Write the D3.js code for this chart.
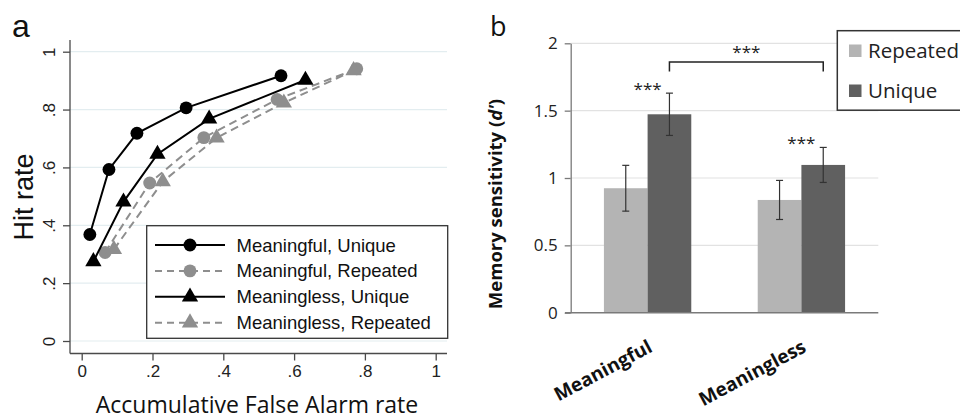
<!DOCTYPE html>
<html>
<head>
<meta charset="utf-8">
<script src="https://cdn.jsdelivr.net/npm/d3@7"></script>
<style>
  html, body { margin: 0; padding: 0; background: #fff; }
  svg { display: block; }
</style>
</head>
<body>
<div id="viz"></div>
<script>
// ---- panel a data (ROC-like curves) ----
const rocSeries = ["Meaningful, Unique", "Meaningful, Repeated", "Meaningless, Unique", "Meaningless, Repeated"];
const faMeaningfulUnique = [0.023, 0.077, 0.156, 0.295, 0.563];
const hitMeaningfulUnique = [0.368, 0.593, 0.718, 0.806, 0.917];
const faMeaningfulRepeated = [0.066, 0.192, 0.345, 0.552, 0.777];
const hitMeaningfulRepeated = [0.306, 0.546, 0.703, 0.835, 0.941];
const faMeaninglessUnique = [0.033, 0.118, 0.214, 0.360, 0.632];
const hitMeaninglessUnique = [0.275, 0.481, 0.646, 0.768, 0.902];
const faMeaninglessRepeated = [0.091, 0.229, 0.381, 0.571, 0.768];
const hitMeaninglessRepeated = [0.317, 0.551, 0.702, 0.823, 0.935];
const rocTicks = [0, 0.2, 0.4, 0.6, 0.8, 1];

// ---- panel b data (d') ----
const categories = ["Meaningful", "Meaningless"];
const conditions = ["Repeated", "Unique"];
const dRepeated = [0.924, 0.837];
const dUnique = [1.473, 1.097];
const errRepeated = [0.17, 0.145];
const errUnique = [0.157, 0.13];
const dTicks = [0, 0.5, 1, 1.5, 2];

document.addEventListener("DOMContentLoaded", () => {
    const width = 960;
    const height = 419;

    const svg = d3.select('#viz').append('svg')
        .attr('width', width)
        .attr('height', height);

    // ================= panel a =================
    const x = d3.scaleLinear().domain([0, 1]).range([81.7, 435.7]);
    const y = d3.scaleLinear().domain([0, 1]).range([341, 51.7]);
    const fmt = d => d === 0 ? "0" : d === 1 ? "1" : d3.format(".1f")(d).replace(/^0/, "");
    const axisColor = "#4a4a4a";

    const a = svg.append('g').attr('font-family', '"Liberation Sans", Arial, sans-serif');

    // gridlines
    a.selectAll('line.grid')
        .data(rocTicks)
        .enter().append('line')
        .attr('x1', 70).attr('x2', 447)
        .attr('y1', d => y(d)).attr('y2', d => y(d))
        .attr('stroke', '#e3edf0').attr('stroke-width', 1.2);

    const yAxis = a.append('g')
        .attr('transform', 'translate(70,0)')
        .call(d3.axisLeft(y).tickValues(rocTicks).tickFormat(fmt).tickSize(7).tickSizeOuter(0));
    yAxis.select('.domain').attr('d', 'M0,40V353.5');
    yAxis.selectAll('.tick text')
        .attr('font-size', 17)
        .attr('fill', '#222')
        .attr('transform', 'rotate(-90)')
        .attr('x', 0).attr('y', -15)
        .attr('dy', 0)
        .attr('text-anchor', 'middle');

    const xAxis = a.append('g')
        .attr('transform', 'translate(0,353.5)')
        .call(d3.axisBottom(x).tickValues(rocTicks).tickFormat(fmt).tickSize(7).tickSizeOuter(0));
    xAxis.select('.domain').attr('d', 'M70,0H447');
    xAxis.selectAll('.tick text').attr('font-size', 17).attr('fill', '#222').attr('y', 11);

    [yAxis, xAxis].forEach(g => {
        g.selectAll('.domain, .tick line').attr('stroke', axisColor).attr('stroke-width', 1.3);
        g.attr('font-family', null);
    });

    a.append('text')
        .attr('transform', 'translate(33,197) rotate(-90)')
        .attr('text-anchor', 'middle')
        .attr('font-size', 27)
        .attr('fill', '#111')
        .text('Hit rate');

    a.append('text')
        .attr('x', 257).attr('y', 413)
        .attr('text-anchor', 'middle')
        .attr('font-family', '"Open Sans", sans-serif')
        .attr('font-size', 23)
        .attr('fill', '#111')
        .text('Accumulative False Alarm rate');

    a.append('text')
        .attr('x', 12).attr('y', 37)
        .attr('font-size', 32)
        .attr('fill', '#111')
        .text('a');

    const series = [
        { name: rocSeries[0], fa: faMeaningfulUnique, hit: hitMeaningfulUnique, color: '#000', dash: null, shape: 'circle' },
        { name: rocSeries[1], fa: faMeaningfulRepeated, hit: hitMeaningfulRepeated, color: '#8e8e8e', dash: '8,5', shape: 'circle' },
        { name: rocSeries[2], fa: faMeaninglessUnique, hit: hitMeaninglessUnique, color: '#000', dash: null, shape: 'triangle' },
        { name: rocSeries[3], fa: faMeaninglessRepeated, hit: hitMeaninglessRepeated, color: '#8e8e8e', dash: '8,5', shape: 'triangle' }
    ];

    const line = d3.line().x(d => x(d[0])).y(d => y(d[1]));
    const circleSym = d3.symbol().type(d3.symbolCircle).size(130);
    const triSym = d3.symbol().type(d3.symbolTriangle).size(115);

    // draw repeated (gray) first, then black on top
    const order = [1, 3, 0, 2];
    order.forEach(i => {
        const s = series[i];
        const pts = s.fa.map((f, j) => [f, s.hit[j]]);
        a.append('path')
            .attr('d', line(pts))
            .attr('fill', 'none')
            .attr('stroke', s.color)
            .attr('stroke-width', 2)
            .attr('stroke-dasharray', s.dash);
        a.selectAll(null)
            .data(pts)
            .enter().append('path')
            .attr('d', s.shape === 'circle' ? circleSym : triSym)
            .attr('transform', d => `translate(${x(d[0])},${y(d[1])})`)
            .attr('fill', s.color);
    });

    // legend a
    const lg = a.append('g');
    lg.append('rect')
        .attr('x', 146.7).attr('y', 225.7)
        .attr('width', 301).attr('height', 112.6)
        .attr('fill', '#fff')
        .attr('stroke', '#333').attr('stroke-width', 1.3);
    series.forEach((s, i) => {
        const cy = 245 + i * 25.9;
        lg.append('line')
            .attr('x1', 155).attr('x2', 225)
            .attr('y1', cy).attr('y2', cy)
            .attr('stroke', s.color).attr('stroke-width', 2)
            .attr('stroke-dasharray', s.dash ? '7,5' : null);
        lg.append('path')
            .attr('d', s.shape === 'circle' ? circleSym : triSym)
            .attr('transform', `translate(190,${cy})`)
            .attr('fill', s.color);
        lg.append('text')
            .attr('x', 236.5).attr('y', cy + 6.5)
            .attr('font-size', 18.5)
            .attr('fill', '#111')
            .text(s.name);
    });

    // ================= panel b =================
    const yb = d3.scaleLinear().domain([0, 2]).range([312.7, 43.3]);
    const xb = d3.scaleBand().domain(categories).range([570.7, 878.3])
        .paddingInner(0.432).paddingOuter(0.216);
    const xs = d3.scaleBand().domain(conditions).range([0, xb.bandwidth()]);
    const color = d3.scaleOrdinal().domain(conditions).range(['#b4b4b4', '#606060']);

    const b = svg.append('g').attr('font-family', '"Open Sans", sans-serif');

    b.selectAll('line.gridb')
        .data(dTicks.slice(1))
        .enter().append('line')
        .attr('x1', 570.7).attr('x2', 878.3)
        .attr('y1', d => yb(d)).attr('y2', d => yb(d))
        .attr('stroke', '#e2e2e2').attr('stroke-width', 1.2);

    const ybAxis = b.append('g')
        .attr('transform', 'translate(570.7,0)')
        .call(d3.axisLeft(yb).tickValues(dTicks).tickFormat(d3.format('')).tickSize(6).tickSizeOuter(0));
    ybAxis.attr('font-family', null);
    ybAxis.selectAll('.domain, .tick line').attr('stroke', '#7a7a7a').attr('stroke-width', 1.3);
    ybAxis.selectAll('.tick text').attr('font-size', 17).attr('fill', '#222').attr('x', -13);

    const barData = [];
    categories.forEach((c, i) => {
        barData.push({ cat: c, cond: 'Repeated', v: dRepeated[i], e: errRepeated[i] });
        barData.push({ cat: c, cond: 'Unique', v: dUnique[i], e: errUnique[i] });
    });

    b.selectAll('rect.bar')
        .data(barData)
        .enter().append('rect')
        .attr('x', d => xb(d.cat) + xs(d.cond))
        .attr('y', d => yb(d.v))
        .attr('width', xs.bandwidth())
        .attr('height', d => yb(0) - yb(d.v))
        .attr('fill', d => color(d.cond));

    // x axis line
    b.append('line')
        .attr('x1', 565).attr('x2', 878.3)
        .attr('y1', yb(0)).attr('y2', yb(0))
        .attr('stroke', '#7a7a7a').attr('stroke-width', 1.5);

    // error bars
    const eb = b.selectAll('g.err')
        .data(barData)
        .enter().append('g')
        .attr('stroke', '#333').attr('stroke-width', 1.2);
    const cx = d => xb(d.cat) + xs(d.cond) + xs.bandwidth() / 2;
    eb.append('line')
        .attr('x1', cx).attr('x2', cx)
        .attr('y1', d => yb(d.v + d.e)).attr('y2', d => yb(d.v - d.e));
    eb.append('line')
        .attr('x1', d => cx(d) - 3.5).attr('x2', d => cx(d) + 3.5)
        .attr('y1', d => yb(d.v + d.e)).attr('y2', d => yb(d.v + d.e));
    eb.append('line')
        .attr('x1', d => cx(d) - 3.5).attr('x2', d => cx(d) + 3.5)
        .attr('y1', d => yb(d.v - d.e)).attr('y2', d => yb(d.v - d.e));

    // significance stars over each group
    categories.forEach((c, i) => {
        b.append('text')
            .attr('x', xb(c) + xb.bandwidth() / 2)
            .attr('y', yb(dUnique[i] + errUnique[i]) + 2)
            .attr('text-anchor', 'middle')
            .attr('font-size', 17)
            .attr('fill', '#222')
            .text('***');
    });

    // bracket between unique bars
    const bx1 = xb(categories[0]) + xs('Unique') + xs.bandwidth() / 2;
    const bx2 = xb(categories[1]) + xs('Unique') + xs.bandwidth() / 2;
    const bTop = yb(1.862);
    const bBot = yb(1.79);
    b.append('path')
        .attr('d', `M${bx1},${bBot}V${bTop}H${bx2}V${bBot}`)
        .attr('fill', 'none')
        .attr('stroke', '#222').attr('stroke-width', 1.5);
    b.append('text')
        .attr('x', (bx1 + bx2) / 2)
        .attr('y', bTop - 4)
        .attr('text-anchor', 'middle')
        .attr('font-size', 17)
        .attr('fill', '#222')
        .text('***');

    // category labels
    b.selectAll('text.cat')
        .data(categories)
        .enter().append('text')
        .attr('transform', d => `translate(${xb(d) + xb.bandwidth() / 2 + 6},351) rotate(-28)`)
        .attr('text-anchor', 'end')
        .attr('font-size', 19)
        .attr('font-weight', 'bold')
        .attr('fill', '#111')
        .text(d => d);

    // y label
    const yl = b.append('text')
        .attr('transform', 'translate(502,204) rotate(-90)')
        .attr('text-anchor', 'middle')
        .attr('font-size', 18.5)
        .attr('font-weight', 'bold')
        .attr('fill', '#111');
    yl.append('tspan').text('Memory sensitivity (');
    yl.append('tspan').attr('font-style', 'italic').text("d'");
    yl.append('tspan').text(')');

    b.append('text')
        .attr('x', 490).attr('y', 36)
        .attr('font-size', 27)
        .attr('fill', '#111')
        .text('b');

    // legend b
    const lb = b.append('g');
    lb.append('rect')
        .attr('x', 837.3).attr('y', 30.7)
        .attr('width', 140).attr('height', 79.5)
        .attr('fill', '#fff')
        .attr('stroke', '#333').attr('stroke-width', 1.5);
    conditions.forEach((c, i) => {
        const cy = 51 + i * 40;
        lb.append('rect')
            .attr('x', 849).attr('y', cy - 6.5)
            .attr('width', 12.5).attr('height', 12.5)
            .attr('fill', color(c));
        lb.append('text')
            .attr('x', 868).attr('y', cy + 7)
            .attr('font-size', 20.5)
            .attr('fill', '#222')
            .text(c);
    });
});
</script>
</body>
</html>
